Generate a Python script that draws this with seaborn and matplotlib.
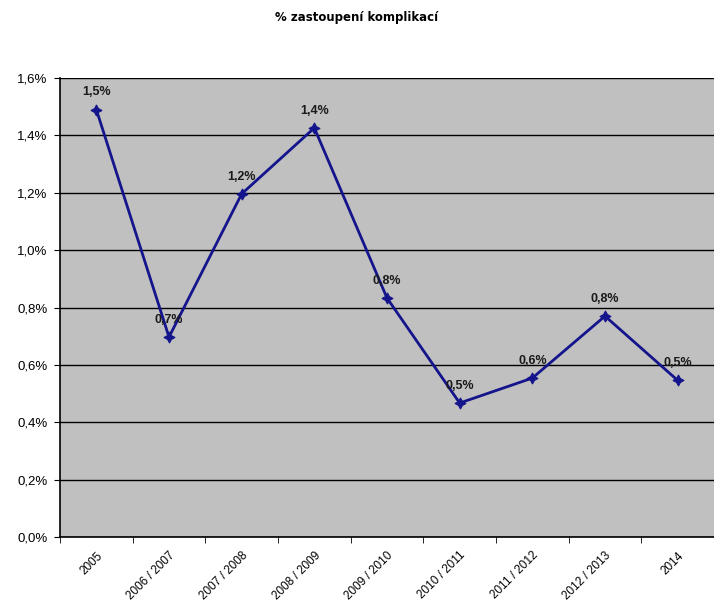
import matplotlib
matplotlib.use("Agg")
import matplotlib.pyplot as plt
import seaborn as sns
import pandas as pd
from matplotlib.ticker import FuncFormatter, MultipleLocator

# Share of complications per period (in percent)
periods = ["2005", "2006 / 2007", "2007 / 2008", "2008 / 2009", "2009 / 2010",
           "2010 / 2011", "2011 / 2012", "2012 / 2013", "2014"]
share_pct = [1.49, 0.697, 1.196, 1.426, 0.833, 0.467, 0.554, 0.770, 0.546]

df = pd.DataFrame({"period": periods, "share": share_pct})
df["pos"] = range(len(df))

plt.rcParams["font.family"] = ["Liberation Sans", "DejaVu Sans"]

fig = plt.figure(figsize=(7.14, 6.07), dpi=100)
ax = fig.add_axes([60 / 714, 1 - 537 / 607, 654 / 714, 459 / 607])
ax.set_facecolor("#c0c0c0")

sns.lineplot(data=df, x="pos", y="share", ax=ax, color="#14148c", linewidth=2.0,
             marker=(4, 1, 0), markersize=8, markeredgecolor="#14148c",
             markerfacecolor="#14148c", zorder=3)

for x, y in zip(df["pos"], df["share"]):
    txt = f"{y:.1f}%".replace(".", ",")
    ax.annotate(txt, (x, y), xytext=(0, 8), textcoords="offset points",
                ha="center", va="bottom", fontsize=9, fontweight="bold",
                color="#1a1a1a", zorder=4)

ax.set_xlim(-0.5, len(periods) - 0.5)
ax.set_ylim(0, 1.6)
ax.yaxis.set_major_locator(MultipleLocator(0.2))
ax.yaxis.set_major_formatter(FuncFormatter(lambda v, _: f"{v:.1f}%".replace(".", ",")))
ax.grid(axis="y", color="black", linewidth=1.0)
ax.set_axisbelow(True)

ax.set_xticks(range(len(periods)))
ax.set_xticklabels(periods, rotation=45, ha="right", rotation_mode="anchor", fontsize=8.5)
ax.set_xticks([i - 0.5 for i in range(len(periods) + 1)], minor=True)
ax.tick_params(axis="x", which="major", length=0, pad=9)
ax.tick_params(axis="x", which="minor", length=4, color="black", direction="out")
ax.tick_params(axis="y", length=4, color="black", labelsize=9.5, pad=5)

ax.set_xlabel("")
ax.set_ylabel("")
for side in ("top", "right"):
    ax.spines[side].set_visible(False)
for side in ("left", "bottom"):
    ax.spines[side].set_color("black")
    ax.spines[side].set_linewidth(1.2)

fig.text(0.5, 1 - 18 / 607, "% zastoupení komplikací", ha="center", va="center",
         fontsize=8.5, fontweight="bold", family=["DejaVu Sans"])

fig.savefig("out.png", dpi=100)
